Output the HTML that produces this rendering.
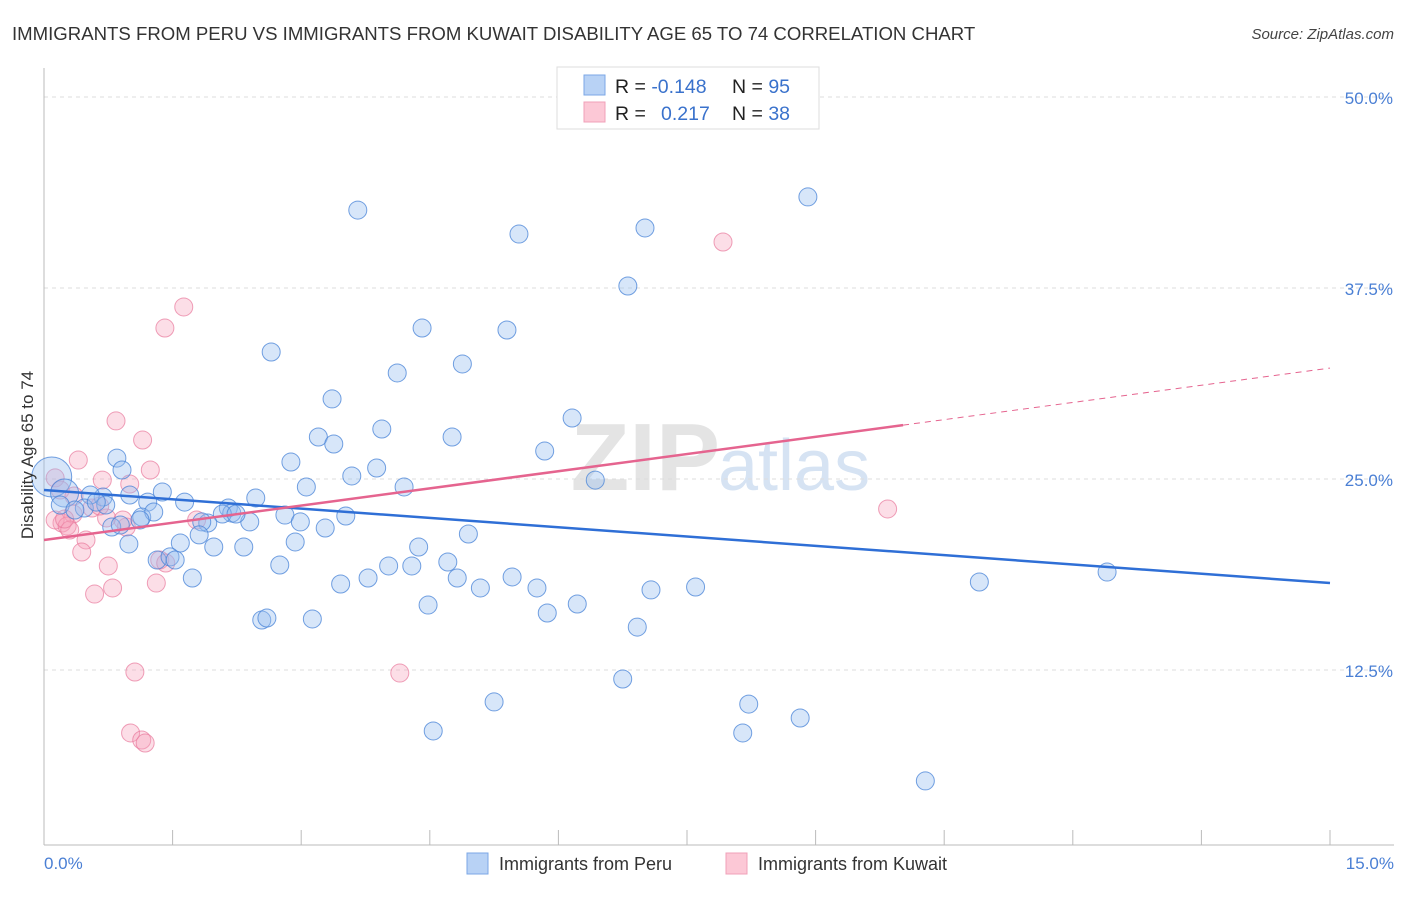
<!DOCTYPE html>
<html><head><meta charset="utf-8"><style>
body{margin:0;background:#fff;font-family:"Liberation Sans",sans-serif;}
svg text{font-family:"Liberation Sans",sans-serif;}
</style></head><body>
<svg id="chart" width="1406" height="892">
<text x="12" y="40" font-size="18.6" fill="#333">IMMIGRANTS FROM PERU VS IMMIGRANTS FROM KUWAIT DISABILITY AGE 65 TO 74 CORRELATION CHART</text>
<text x="1394" y="39" font-size="15" fill="#444" font-style="italic" text-anchor="end">Source: ZipAtlas.com</text>
<text x="720" y="490" font-size="96" fill="#e4e4e4" text-anchor="end" font-family="Liberation Serif" font-weight="bold">ZIP</text>
<text x="718" y="490" font-size="72" fill="#d6e3f3">atlas</text>
<g id="grid"></g><g id="axes"></g><g id="pts"></g><g id="lines"></g>
<text transform="translate(33,455) rotate(-90)" font-size="17" fill="#333" text-anchor="middle">Disability Age 65 to 74</text>
<text x="44" y="869" font-size="17" fill="#4a7fd4">0.0%</text>
<text x="1394" y="869" font-size="17" fill="#4a7fd4" text-anchor="end">15.0%</text>
<g>
<rect x="557" y="67" width="262" height="62" fill="#fff" stroke="#ddd"/>
<rect x="584" y="75" width="21" height="20" fill="#b8d2f5" stroke="#7ba7e6"/>
<rect x="584" y="102" width="21" height="20" fill="#fcc8d6" stroke="#f0a0b8"/>
<text x="615" y="93" font-size="19.5" fill="#222">R = <tspan fill="#3a72cc">-0.148</tspan><tspan x="732">N = </tspan><tspan fill="#3a72cc">95</tspan></text>
<text x="615" y="120" font-size="19.5" fill="#222">R = <tspan x="661" fill="#3a72cc">0.217</tspan><tspan x="732">N = </tspan><tspan fill="#3a72cc">38</tspan></text>
</g>
<g>
<rect x="467" y="853" width="21" height="21" fill="#b8d2f5" stroke="#7ba7e6"/>
<text x="499" y="870" font-size="18" fill="#333">Immigrants from Peru</text>
<rect x="726" y="853" width="21" height="21" fill="#fcc8d6" stroke="#f0a0b8"/>
<text x="758" y="870" font-size="18" fill="#333">Immigrants from Kuwait</text>
</g>
</svg>
<script>
const yTicks=[12.5,25,37.5,50];
const yTickLabels=["12.5%","25.0%","37.5%","50.0%"];
const xTicks=[0,1.5,3,4.5,6,7.5,9,10.5,12,13.5,15];
const peruX=[3.66,8.91,5.54,7.01,6.81,4.41,5.40,2.65,4.12,4.88,3.36,6.16,3.94,3.20,4.76,3.38,5.84,0.85,2.88,3.88,3.59,0.91,6.43,4.20,3.06,0.09,1.38,2.47,1.00,0.69,0.24,0.54,0.19,0.47,1.21,1.64,2.15,2.19,2.08,2.81,3.52,1.91,1.84,2.40,1.14,1.28,2.99,3.28,4.95,0.79,1.59,1.81,1.98,2.33,0.99,2.93,4.37,1.32,1.47,1.53,4.71,2.75,4.02,4.29,1.73,3.78,3.46,4.82,5.46,5.09,5.75,7.08,7.60,10.91,12.40,4.48,6.22,5.87,2.54,2.60,3.13,6.92,6.75,5.25,8.22,8.82,4.54,8.15,10.28,1.12,0.72,0.36,0.89,0.61,2.24];
const peruY=[42.6,43.46,41.03,41.43,37.63,34.88,34.75,33.31,31.94,32.53,30.24,28.99,28.27,27.75,27.75,27.29,26.83,26.37,26.11,25.72,25.20,25.59,24.93,24.48,24.48,25.13,24.15,23.76,23.95,23.82,24.08,23.95,23.30,23.10,23.49,23.49,23.10,22.77,22.71,22.64,22.58,22.12,22.19,22.19,22.51,22.84,22.19,21.79,21.40,21.86,20.81,21.34,20.55,20.55,20.75,20.88,20.55,19.70,19.90,19.70,19.57,19.37,19.31,19.31,18.52,18.52,18.13,18.52,18.59,17.87,17.87,17.74,17.93,18.26,18.91,16.75,16.82,16.23,15.77,15.90,15.84,15.31,11.91,10.41,10.27,9.36,8.51,8.38,5.24,22.32,23.30,22.97,21.99,23.49,22.71];
const kuwaitX=[7.92,1.63,1.41,0.84,1.15,0.40,1.24,0.68,1.00,0.13,0.19,0.56,0.34,0.21,0.13,0.27,0.30,0.49,0.96,1.78,0.73,0.44,0.75,1.35,1.42,0.80,0.59,1.31,1.06,4.15,9.84,1.01,1.14,1.18,0.92,0.65,0.35,0.24];
const kuwaitY=[40.51,36.26,34.88,28.80,27.55,26.24,25.59,24.93,24.67,25.07,24.28,23.10,22.71,22.12,22.32,21.92,21.66,21.01,21.86,22.32,22.45,20.22,19.31,19.70,19.50,17.87,17.47,18.19,12.37,12.30,23.04,8.38,7.92,7.72,22.32,23.23,23.89,22.38];
const peruTrend=[24.28,18.19];
const kuwaitTrend=[21.01,32.26];
const kuwaitSolidEnd=10.02;
const NS="http://www.w3.org/2000/svg";
const X=v=>44+v/15*1286, Y=v=>861-v/50*764;
function mk(t,a,p){const e=document.createElementNS(NS,t);for(const k in a)e.setAttribute(k,a[k]);document.getElementById(p).appendChild(e);return e;}
yTicks.forEach((t,i)=>{
 const l=mk('line',{x1:44,x2:1394,y1:Y(t),y2:Y(t),stroke:'#ddd','stroke-dasharray':'4,4'},'grid');
 
 
 const tx=mk('text',{x:1393,y:Y(t)+7,'font-size':17,fill:'#4a7fd4','text-anchor':'end'},'grid');
 tx.textContent=yTickLabels[i];
 
 
});
const ax=mk('line',{x1:44,x2:1394,y1:845,y2:845,stroke:'#bbb'},'axes');


const ay=mk('line',{x1:44,x2:44,y1:68,y2:845,stroke:'#bbb'},'axes');


xTicks.forEach(t=>{
 const l=mk('line',{x1:X(t),x2:X(t),y1:830,y2:845,stroke:'#bbb'},'axes');
 
 
});
kuwaitX.forEach((x,i)=>{
 const c=mk('circle',{cx:X(x),cy:Y(kuwaitY[i]),r:9,fill:'rgba(246,160,185,0.35)',stroke:'rgba(232,120,155,0.7)','stroke-width':1},'pts');
 
 
});
peruX.forEach((x,i)=>{
 const c=mk('circle',{cx:X(x),cy:Y(peruY[i]),r:(i==25?20:(i==30?14:9)),fill:'rgba(150,190,240,0.38)',stroke:'rgba(70,130,215,0.75)','stroke-width':1},'pts');
 
 
});
const kt=v=>kuwaitTrend[0]+(kuwaitTrend[1]-kuwaitTrend[0])*v/15;
const pl=mk('line',{x1:X(0),y1:Y(peruTrend[0]),x2:X(15),y2:Y(peruTrend[1]),stroke:'#2f6fd6','stroke-width':2.5},'lines');


const kl=mk('line',{x1:X(0),y1:Y(kt(0)),x2:X(kuwaitSolidEnd),y2:Y(kt(kuwaitSolidEnd)),stroke:'#e5648f','stroke-width':2.5},'lines');


const kd=mk('line',{x1:X(kuwaitSolidEnd),y1:Y(kt(kuwaitSolidEnd)),x2:X(15),y2:Y(kt(15)),stroke:'#e5648f','stroke-width':1,'stroke-dasharray':'6,5'},'lines');


</script>
</body></html>
